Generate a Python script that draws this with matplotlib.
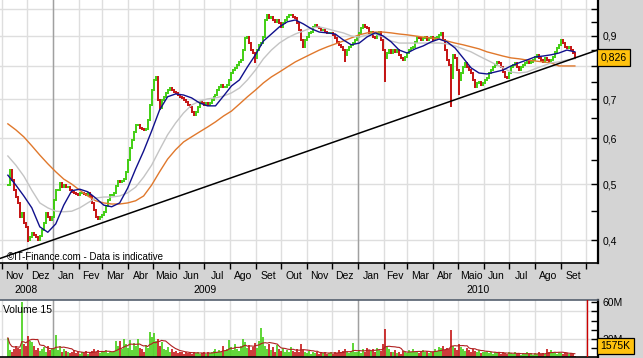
import numpy as np
import pandas as pd
import matplotlib
matplotlib.use('Agg')
import matplotlib.pyplot as plt
import matplotlib.dates as mdates
import matplotlib.transforms as mtrans
from matplotlib.ticker import FixedLocator, FixedFormatter, NullFormatter

plt.rcParams['font.family'] = ['Liberation Sans', 'DejaVu Sans']

# Price series (about one point every 2-3 days)
first_day = '2008-11-08'
last_day = '2010-09-18'

closes = [
    0.498, 0.529, 0.508, 0.488, 0.475, 0.464, 0.439, 0.446, 0.428, 0.422,
    0.401, 0.405, 0.412, 0.409, 0.405, 0.401, 0.407, 0.417, 0.428, 0.446,
    0.439, 0.434, 0.439, 0.469, 0.488, 0.488, 0.502, 0.494, 0.498, 0.494,
    0.494, 0.488, 0.485, 0.483, 0.481, 0.479, 0.483, 0.483, 0.481, 0.479,
    0.483, 0.477, 0.464, 0.451, 0.439, 0.435, 0.439, 0.442, 0.448, 0.458,
    0.469, 0.479, 0.479, 0.483, 0.496, 0.506, 0.504, 0.506, 0.510, 0.525,
    0.550, 0.577, 0.596, 0.615, 0.632, 0.632, 0.625, 0.622, 0.620, 0.622,
    0.645, 0.684, 0.726, 0.756, 0.765, 0.698, 0.676, 0.698, 0.707, 0.718,
    0.726, 0.732, 0.726, 0.721, 0.718, 0.712, 0.707, 0.704, 0.698, 0.693,
    0.684, 0.679, 0.666, 0.658, 0.666, 0.679, 0.693, 0.690, 0.684, 0.690,
    0.684, 0.690, 0.698, 0.707, 0.712, 0.726, 0.735, 0.741, 0.735, 0.735,
    0.741, 0.756, 0.777, 0.786, 0.793, 0.802, 0.812, 0.818, 0.851, 0.893,
    0.896, 0.875, 0.851, 0.841, 0.825, 0.851, 0.868, 0.875, 0.896, 0.959,
    0.978, 0.967, 0.970, 0.959, 0.951, 0.959, 0.948, 0.933, 0.948, 0.959,
    0.970, 0.978, 0.978, 0.970, 0.967, 0.948, 0.922, 0.886, 0.862, 0.886,
    0.896, 0.911, 0.914, 0.933, 0.940, 0.933, 0.929, 0.922, 0.922, 0.914,
    0.911, 0.911, 0.911, 0.904, 0.893, 0.879, 0.868, 0.862, 0.851, 0.835,
    0.851, 0.862, 0.868, 0.875, 0.886, 0.896, 0.911, 0.929, 0.940, 0.933,
    0.929, 0.911, 0.914, 0.896, 0.893, 0.911, 0.914, 0.886, 0.851, 0.825,
    0.841, 0.851, 0.841, 0.851, 0.845, 0.851, 0.835, 0.825, 0.818, 0.828,
    0.841, 0.851, 0.858, 0.862, 0.879, 0.896, 0.893, 0.886, 0.893, 0.896,
    0.886, 0.893, 0.896, 0.886, 0.893, 0.896, 0.904, 0.911, 0.886, 0.851,
    0.818, 0.802, 0.762, 0.835, 0.825, 0.786, 0.756, 0.777, 0.796, 0.809,
    0.796, 0.786, 0.777, 0.756, 0.735, 0.747, 0.750, 0.741, 0.747, 0.756,
    0.762, 0.777, 0.786, 0.796, 0.802, 0.812, 0.809, 0.796, 0.780, 0.765,
    0.762, 0.777, 0.796, 0.802, 0.809, 0.796, 0.786, 0.796, 0.802, 0.809,
    0.812, 0.809, 0.812, 0.818, 0.828, 0.835, 0.825, 0.818, 0.812, 0.825,
    0.818, 0.812, 0.818, 0.828, 0.845, 0.858, 0.868, 0.886, 0.875, 0.862,
    0.858, 0.862, 0.851, 0.841, 0.826,
]

# volume in millions of shares
volumes = [
    21, 8, 6, 9, 12, 10, 9, 60, 14, 12,
    23, 18, 16, 12, 8, 10, 7, 9, 11, 6,
    12, 8, 10, 9, 24, 8, 12, 6, 9, 7,
    5, 4, 6, 8, 4, 5, 3, 6, 4, 7,
    3, 5, 7, 9, 6, 8, 4, 6, 5, 8,
    4, 6, 5, 7, 17, 12, 18, 9, 20, 14,
    10, 19, 8, 15, 12, 20, 10, 9, 6, 13,
    10, 27, 22, 26, 18, 20, 12, 16, 9, 8,
    11, 6, 9, 5, 7, 4, 6, 5, 3, 6,
    4, 5, 3, 6, 4, 5, 3, 4, 5, 3,
    6, 4, 5, 7, 9, 5, 8, 6, 12, 7,
    9, 19, 11, 8, 14, 9, 7, 12, 20, 16,
    10, 13, 8, 11, 15, 10, 18, 32, 22, 12,
    9, 14, 8, 11, 6, 13, 9, 7, 10, 6,
    8, 5, 11, 7, 6, 9, 5, 14, 8, 6,
    4, 7, 3, 5, 4, 6, 3, 5, 4, 6,
    3, 4, 5, 3, 6, 4, 8, 5, 7, 9,
    6, 4, 5, 15, 6, 5, 7, 4, 9, 6,
    10, 8, 7, 9, 6, 10, 8, 7, 14, 31,
    12, 9, 6, 5, 8, 4, 6, 3, 7, 5,
    4, 8, 6, 9, 5, 7, 4, 6, 8, 5,
    7, 4, 6, 5, 9, 7, 11, 10, 12, 8,
    10, 9, 30, 12, 10, 8, 14, 11, 9, 7,
    10, 8, 6, 9, 7, 5, 8, 4, 6, 5,
    7, 4, 6, 3, 5, 4, 6, 3, 5, 4,
    3, 5, 4, 3, 5, 3, 4, 2, 4, 3,
    5, 3, 4, 2, 4, 3, 5, 3, 4, 3,
    9, 5, 8, 4, 6, 3, 5, 4, 3, 5,
    4, 3, 4, 3, 1.6,
]

# moving averages as drawn on the chart (one point every ~10 days)
ma_short = [
    0.518, 0.498, 0.477, 0.455, 0.422, 0.413, 0.427, 0.460, 0.487, 0.490,
    0.485, 0.473, 0.460, 0.457, 0.464, 0.492, 0.531, 0.570, 0.617, 0.671,
    0.707, 0.715, 0.712, 0.704, 0.690, 0.682, 0.682, 0.709, 0.738, 0.756,
    0.796, 0.835, 0.882, 0.907, 0.933, 0.952, 0.959, 0.944, 0.926, 0.914,
    0.911, 0.907, 0.886, 0.869, 0.875, 0.897, 0.911, 0.900, 0.879, 0.851,
    0.841, 0.855, 0.865, 0.879, 0.889, 0.879, 0.858, 0.825, 0.793, 0.777,
    0.774, 0.780, 0.786, 0.799, 0.809, 0.818, 0.828, 0.831, 0.835, 0.841,
    0.851, 0.845,
]
ma_mid = [
    0.559, 0.539, 0.516, 0.488, 0.464, 0.455, 0.449, 0.448, 0.449, 0.455,
    0.464, 0.473, 0.475, 0.475, 0.477, 0.483, 0.494, 0.514, 0.539, 0.573,
    0.608, 0.637, 0.663, 0.684, 0.695, 0.701, 0.704, 0.709, 0.718, 0.732,
    0.756, 0.786, 0.822, 0.851, 0.875, 0.893, 0.907, 0.918, 0.929, 0.933,
    0.926, 0.918, 0.911, 0.900, 0.896, 0.904, 0.907, 0.896, 0.882, 0.875,
    0.875, 0.875, 0.875, 0.875, 0.875, 0.872, 0.865, 0.855, 0.845, 0.831,
    0.818, 0.805, 0.793, 0.780, 0.777, 0.780, 0.790, 0.799, 0.809, 0.812,
    0.818, 0.822,
]
ma_long = [
    0.635, 0.620, 0.603, 0.582, 0.561, 0.542, 0.525, 0.510, 0.500, 0.488,
    0.477, 0.468, 0.464, 0.462, 0.462, 0.464, 0.468, 0.477, 0.498, 0.525,
    0.552, 0.573, 0.591, 0.603, 0.615, 0.627, 0.640, 0.655, 0.668, 0.687,
    0.707, 0.726, 0.747, 0.765, 0.780, 0.796, 0.812, 0.825, 0.838, 0.851,
    0.862, 0.872, 0.882, 0.893, 0.904, 0.911, 0.914, 0.914, 0.911, 0.907,
    0.904, 0.900, 0.896, 0.893, 0.889, 0.882, 0.875, 0.869, 0.862, 0.855,
    0.845, 0.838, 0.831, 0.825, 0.822, 0.818, 0.815, 0.812, 0.809, 0.799,
    0.799, 0.799,
]

# long lower shadows visible on the chart
spike_idx = [10, 76, 124, 169, 189, 222, 226]
spike_low = [0.398, 0.671, 0.809, 0.812, 0.750, 0.679, 0.712]

# support line
trend_dates = ['2008-10-29', '2010-10-15']
trend_vals = [0.372, 0.851]

month_names = ['Jan', 'Fev', 'Mar', 'Abr', 'Maio', 'Jun', 'Jul', 'Ago', 'Set', 'Out', 'Nov', 'Dez']
price_ticks = [0.4, 0.5, 0.6, 0.7, 0.8, 0.9, 1.0]
price_labels = ['0,4', '0,5', '0,6', '0,7', '', '0,9', '']
price_minor = [0.45, 0.55, 0.65, 0.75, 0.85, 0.95]
vol_ticks = [20, 60]
vol_labels = ['20M', '60M']
vol_minor = [10, 30, 40, 50]
last_price_text = '0,826'
last_vol_text = '1575K'
marker_date = '2010-10-03'

GREEN = '#33cc00'
RED = '#c00000'
BG = '#d4d4d4'
GRID = '#dedede'

dates = pd.date_range(first_day, last_day, periods=len(closes))
ma_dates = pd.date_range(first_day, last_day, periods=len(ma_short))
opens = [closes[0]] + closes[:-1]
up = [c >= o for o, c in zip(opens, closes)]
colors = [GREEN if u else RED for u in up]

x0 = pd.Timestamp('2008-10-29 14:00')
x1 = pd.Timestamp('2010-10-15 17:00')
month_starts = pd.date_range('2008-11-01', '2010-10-01', freq='MS')
year_starts = [pd.Timestamp('2009-01-01'), pd.Timestamp('2010-01-01')]

fig = plt.figure(figsize=(6.43, 3.58), dpi=100, facecolor=BG)
ax = fig.add_axes([0, 95 / 358, 598 / 643, 263 / 358])
axv = fig.add_axes([0, 1 / 358, 598 / 643, 57 / 358])

# ---- price panel
ax.set_facecolor('white')
ax.set_yscale('log')
ax.set_ylim(0.3656, 1.038)
ax.set_xlim(x0, x1)

lows = [min(o, c) / 1.004 for o, c in zip(opens, closes)]
highs = [max(o, c) * 1.004 for o, c in zip(opens, closes)]
for i, lo in zip(spike_idx, spike_low):
    lows[i] = lo
ax.vlines(dates, lows, highs, colors=colors, lw=1.3, zorder=2)

ax.plot(ma_dates, ma_long, color='#e0782c', lw=1, zorder=3)
ax.plot(ma_dates, ma_mid, color='#c4c4c4', lw=1, zorder=3)
ax.plot(ma_dates, ma_short, color='#10108c', lw=1, zorder=3)
ax.plot(pd.to_datetime(trend_dates), trend_vals, color='black', lw=1.1, zorder=4)

for ys in year_starts:
    ax.axvline(ys, color='#a0a0a0', lw=1, zorder=1)

ax.yaxis.tick_right()
ax.yaxis.set_major_locator(FixedLocator(price_ticks))
ax.yaxis.set_major_formatter(FixedFormatter(price_labels))
ax.yaxis.set_minor_locator(FixedLocator(price_minor))
ax.yaxis.set_minor_formatter(NullFormatter())
ax.tick_params(axis='y', which='both', direction='in', length=5, width=1, labelsize=7.5, pad=3)
ax.set_xticks(month_starts)
ax.tick_params(axis='x', direction='out', length=4, width=1, labelbottom=False)
ax.grid(True, which='major', color=GRID, lw=1)
ax.set_axisbelow(True)
for s in ['left', 'top']:
    ax.spines[s].set_visible(False)
ax.spines['right'].set_linewidth(1.6)
ax.spines['bottom'].set_linewidth(1.2)

ax.text(0.011, 0.024, '\u00a9IT-Finance.com - Data is indicative', transform=ax.transAxes,
        fontsize=7, va='center', ha='left', zorder=5)

ytr = mtrans.blended_transform_factory(ax.transAxes, ax.transData)
ax.text(1.004, 0.826, last_price_text, transform=ytr, fontsize=7.5, va='center', ha='left',
        bbox=dict(boxstyle='square,pad=0.3', fc='#ffc20e', ec='black', lw=0.9),
        zorder=10, clip_on=False)

# month and year labels on the grey band
btr = mtrans.blended_transform_factory(ax.transData, fig.transFigure)
for i, ms in enumerate(month_starts[:-1]):
    mid = mdates.date2num(ms + (month_starts[i + 1] - ms) / 2)
    fig.text(mid, 0.229, month_names[ms.month - 1], transform=btr, fontsize=7.5,
             ha='center', va='center')
year_edges = [x0] + year_starts + [x1]
for i, yr in enumerate(['2008', '2009', '2010']):
    mid = mdates.date2num(year_edges[i] + (year_edges[i + 1] - year_edges[i]) / 2)
    fig.text(mid, 0.19, yr, transform=btr, fontsize=7.5, ha='center', va='center')

# ---- volume panel
axv.set_facecolor('white')
axv.set_xlim(x0, x1)
axv.set_ylim(0, 62.5)
axv.vlines(dates, 0, volumes, colors=colors, lw=1.1, zorder=2)
vol_ma = pd.Series(volumes).rolling(9, min_periods=1).mean()
axv.plot(dates, vol_ma, color='#b02020', lw=0.8, zorder=3)
axv.axvline(pd.Timestamp(marker_date), color='#cc0000', lw=1, zorder=3)
for ys in year_starts:
    axv.axvline(ys, color='#a0a0a0', lw=1, zorder=1)
for lvl in [20, 50]:
    axv.axhline(lvl, color=GRID, lw=1, zorder=0)
axv.set_xticks(month_starts)
axv.grid(True, axis='x', color=GRID, lw=1)
axv.set_axisbelow(True)
axv.tick_params(axis='x', length=0, labelbottom=False)
axv.yaxis.tick_right()
axv.yaxis.set_major_locator(FixedLocator(vol_ticks))
axv.yaxis.set_major_formatter(FixedFormatter(vol_labels))
axv.yaxis.set_minor_locator(FixedLocator(vol_minor))
axv.yaxis.set_minor_formatter(NullFormatter())
axv.tick_params(axis='y', which='both', direction='in', length=5, width=1, labelsize=7.5, pad=3)
axv.spines['left'].set_visible(False)
axv.spines['top'].set_color('#55606e')
axv.spines['top'].set_linewidth(1.2)
axv.spines['right'].set_linewidth(1.6)
axv.spines['bottom'].set_linewidth(1.2)

axv.text(0.005, 0.82, 'Volume 15', transform=axv.transAxes, fontsize=7.5, va='center', ha='left')
axv.text(1.004, 0.19, last_vol_text, transform=axv.transAxes, fontsize=7.5, va='center', ha='left',
         bbox=dict(boxstyle='square,pad=0.3', fc='#ffc20e', ec='black', lw=0.9),
         zorder=10, clip_on=False)

fig.savefig('out.png', dpi=100, facecolor=BG)
